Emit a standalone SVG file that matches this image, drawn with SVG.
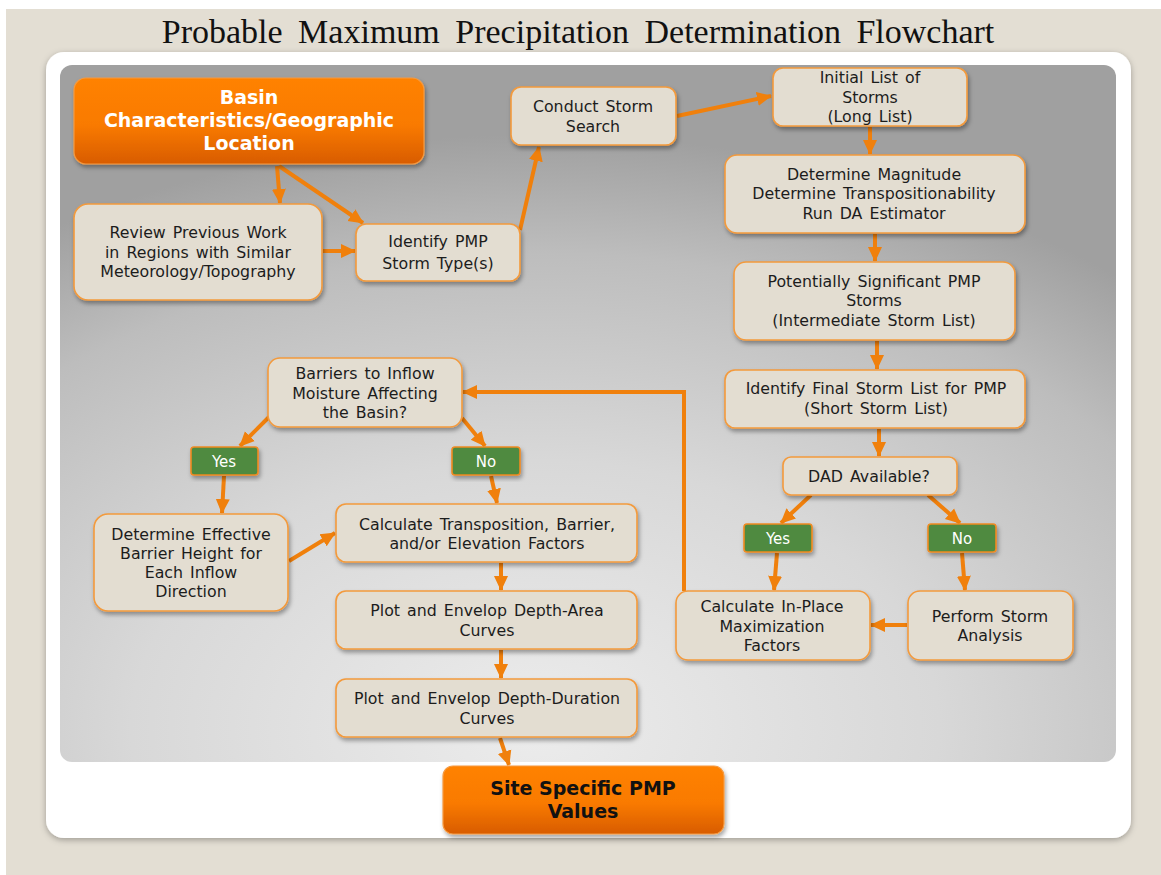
<svg xmlns="http://www.w3.org/2000/svg" width="1161" height="875" viewBox="0 0 1161 875">
<defs>
<style>
.box{fill:#e3ddd1;stroke:#f39a3c;stroke-width:1.6;filter:url(#sh)}
.t{font-family:"DejaVu Sans","Liberation Sans",sans-serif;font-size:15.8px;fill:#1c1c1c;text-anchor:middle;word-spacing:2px}
.g{fill:#4f8a40;stroke:#f08a20;stroke-width:1.6;filter:url(#sh)}
.gt{font-family:"DejaVu Sans","Liberation Sans",sans-serif;font-size:15px;fill:#ffffff;text-anchor:middle}
.ob{fill:url(#og);stroke:#f59a40;stroke-width:1.2;filter:url(#sh)}
.bt{font-family:"DejaVu Sans","Liberation Sans",sans-serif;font-size:19px;font-weight:bold;text-anchor:middle}
.c{fill:none;stroke:#f0800c;stroke-width:4;marker-end:url(#ah)}
</style>
<marker id="ah" markerUnits="userSpaceOnUse" markerWidth="16" markerHeight="16" viewBox="0 0 16 16" refX="14" refY="8" orient="auto">
<path d="M0,1 L15,8 L0,15 Z" fill="#f0800c"/>
</marker>
<linearGradient id="og" x1="0" y1="0" x2="0" y2="1">
<stop offset="0" stop-color="#ff8200"/>
<stop offset="0.55" stop-color="#f97a00"/>
<stop offset="1" stop-color="#d85c04"/>
</linearGradient>
<radialGradient id="pg" cx="0.45" cy="0.95" r="0.85" gradientUnits="objectBoundingBox">
<stop offset="0" stop-color="#ececec"/>
<stop offset="0.45" stop-color="#d8d8d8"/>
<stop offset="0.8" stop-color="#bdbdbd"/>
<stop offset="1" stop-color="#a0a0a0"/>
</radialGradient>
<filter id="sh" x="-10%" y="-10%" width="125%" height="135%">
<feDropShadow dx="1.5" dy="3" stdDeviation="2" flood-color="#000" flood-opacity="0.35"/>
</filter>
<filter id="psh" x="-5%" y="-5%" width="110%" height="110%">
<feDropShadow dx="0" dy="2" stdDeviation="3" flood-color="#000" flood-opacity="0.3"/>
</filter>
</defs>

<rect x="0" y="0" width="1161" height="875" fill="#ffffff"/>
<rect x="6" y="9" width="1155" height="866" fill="#e3ded3"/>
<text x="578" y="43" font-family="'Liberation Serif','Times New Roman',serif" font-size="34" text-anchor="middle" word-spacing="7" fill="#111">Probable Maximum Precipitation Determination Flowchart</text>
<rect x="46" y="52" width="1085" height="786" rx="18" fill="#ffffff" filter="url(#psh)"/>
<rect x="60" y="65" width="1056" height="697" rx="12" fill="url(#pg)"/>

<g id="connectors">
<path class="c" d="M277,166 L280,203"/>
<path class="c" d="M279,166 L363,223"/>
<path class="c" d="M323,251 L355,251"/>
<path class="c" d="M520,230 L539,147"/>
<path class="c" d="M677,116 L771,96"/>
<path class="c" d="M870,127 L870,154"/>
<path class="c" d="M875,234 L875,261"/>
<path class="c" d="M877,341 L877,369"/>
<path class="c" d="M879,429 L879,456"/>
<path class="c" d="M811,495 L781,523"/>
<path class="c" d="M928,495 L960,523"/>
<path class="c" d="M777,553 L774,590"/>
<path class="c" d="M962,553 L965,590"/>
<path class="c" d="M907,625 L871,625"/>
<path class="c" d="M684,591 L684,392 L463,392"/>
<path class="c" d="M270,416 L240,446"/>
<path class="c" d="M462,418 L485,446"/>
<path class="c" d="M224,476 L222,513"/>
<path class="c" d="M491,476 L497,503"/>
<path class="c" d="M289,561 L335,533"/>
<path class="c" d="M501,563 L501,590"/>
<path class="c" d="M501,650 L501,678"/>
<path class="c" d="M500,738 L509,765"/>
</g>

<g id="n-basin">
<rect class="ob" x="74" y="78" width="350" height="86" rx="12"/>
<text class="bt" fill="#ffffff"><tspan x="249" y="104">Basin</tspan><tspan x="249" y="127">Characteristics/Geographic</tspan><tspan x="249" y="150">Location</tspan></text>
</g>
<g id="n-review">
<rect class="box" x="74" y="204" width="248" height="96" rx="14"/>
<text class="t"><tspan x="198" y="238">Review Previous Work</tspan><tspan x="198" y="258">in Regions with Similar</tspan><tspan x="198" y="277">Meteorology/Topography</tspan></text>
</g>
<g id="n-identify">
<rect class="box" x="356" y="224" width="164" height="57" rx="10"/>
<text class="t"><tspan x="438" y="247">Identify PMP</tspan><tspan x="438" y="269">Storm Type(s)</tspan></text>
</g>
<g id="n-conduct">
<rect class="box" x="511" y="87" width="165" height="58" rx="10"/>
<text class="t"><tspan x="593" y="112">Conduct Storm</tspan><tspan x="593" y="132">Search</tspan></text>
</g>
<g id="n-initial">
<rect class="box" x="773" y="68" width="194" height="58" rx="10"/>
<text class="t"><tspan x="870" y="83">Initial List of</tspan><tspan x="870" y="103">Storms</tspan><tspan x="870" y="122">(Long List)</tspan></text>
</g>
<g id="n-magnitude">
<rect class="box" x="725" y="155" width="300" height="78" rx="12"/>
<text class="t"><tspan x="874" y="180">Determine Magnitude</tspan><tspan x="874" y="199">Determine Transpositionability</tspan><tspan x="874" y="219">Run DA Estimator</tspan></text>
</g>
<g id="n-potential">
<rect class="box" x="734" y="262" width="281" height="78" rx="12"/>
<text class="t"><tspan x="874" y="287">Potentially Significant PMP</tspan><tspan x="874" y="306">Storms</tspan><tspan x="874" y="326">(Intermediate Storm List)</tspan></text>
</g>
<g id="n-final">
<rect class="box" x="725" y="370" width="300" height="58" rx="10"/>
<text class="t"><tspan x="876" y="394">Identify Final Storm List for PMP</tspan><tspan x="876" y="414">(Short Storm List)</tspan></text>
</g>
<g id="n-dad">
<rect class="box" x="783" y="457" width="174" height="38" rx="8"/>
<text class="t" x="869" y="482">DAD Available?</text>
</g>
<g id="n-yes2">
<rect class="g" x="744" y="524" width="68" height="28" rx="3"/>
<text class="gt" x="778" y="544">Yes</text>
</g>
<g id="n-no2">
<rect class="g" x="928" y="524" width="68" height="28" rx="3"/>
<text class="gt" x="962" y="544">No</text>
</g>
<g id="n-inplace">
<rect class="box" x="676" y="591" width="194" height="69" rx="12"/>
<text class="t"><tspan x="772" y="612">Calculate In-Place</tspan><tspan x="772" y="632">Maximization</tspan><tspan x="772" y="651">Factors</tspan></text>
</g>
<g id="n-perform">
<rect class="box" x="908" y="591" width="165" height="69" rx="12"/>
<text class="t"><tspan x="990" y="622">Perform Storm</tspan><tspan x="990" y="641">Analysis</tspan></text>
</g>
<g id="n-barriers">
<rect class="box" x="268" y="358" width="194" height="69" rx="12"/>
<text class="t"><tspan x="365" y="379">Barriers to Inflow</tspan><tspan x="365" y="399">Moisture Affecting</tspan><tspan x="365" y="418">the Basin?</tspan></text>
</g>
<g id="n-yes1">
<rect class="g" x="191" y="447" width="67" height="28" rx="3"/>
<text class="gt" x="224" y="467">Yes</text>
</g>
<g id="n-no1">
<rect class="g" x="452" y="447" width="68" height="28" rx="3"/>
<text class="gt" x="486" y="467">No</text>
</g>
<g id="n-effective">
<rect class="box" x="94" y="514" width="194" height="97" rx="14"/>
<text class="t"><tspan x="191" y="540">Determine Effective</tspan><tspan x="191" y="559">Barrier Height for</tspan><tspan x="191" y="578">Each Inflow</tspan><tspan x="191" y="597">Direction</tspan></text>
</g>
<g id="n-transposition">
<rect class="box" x="336" y="504" width="301" height="58" rx="10"/>
<text class="t"><tspan x="487" y="530">Calculate Transposition, Barrier,</tspan><tspan x="487" y="549">and/or Elevation Factors</tspan></text>
</g>
<g id="n-deptharea">
<rect class="box" x="336" y="591" width="301" height="58" rx="10"/>
<text class="t"><tspan x="487" y="616">Plot and Envelop Depth-Area</tspan><tspan x="487" y="636">Curves</tspan></text>
</g>
<g id="n-depthduration">
<rect class="box" x="336" y="679" width="301" height="58" rx="10"/>
<text class="t"><tspan x="487" y="704">Plot and Envelop Depth-Duration</tspan><tspan x="487" y="724">Curves</tspan></text>
</g>
<g id="n-site">
<rect class="ob" x="443" y="766" width="281" height="68" rx="10"/>
<text class="bt" fill="#111111"><tspan x="583" y="795">Site Specific PMP</tspan><tspan x="583" y="818">Values</tspan></text>
</g>
</svg>
